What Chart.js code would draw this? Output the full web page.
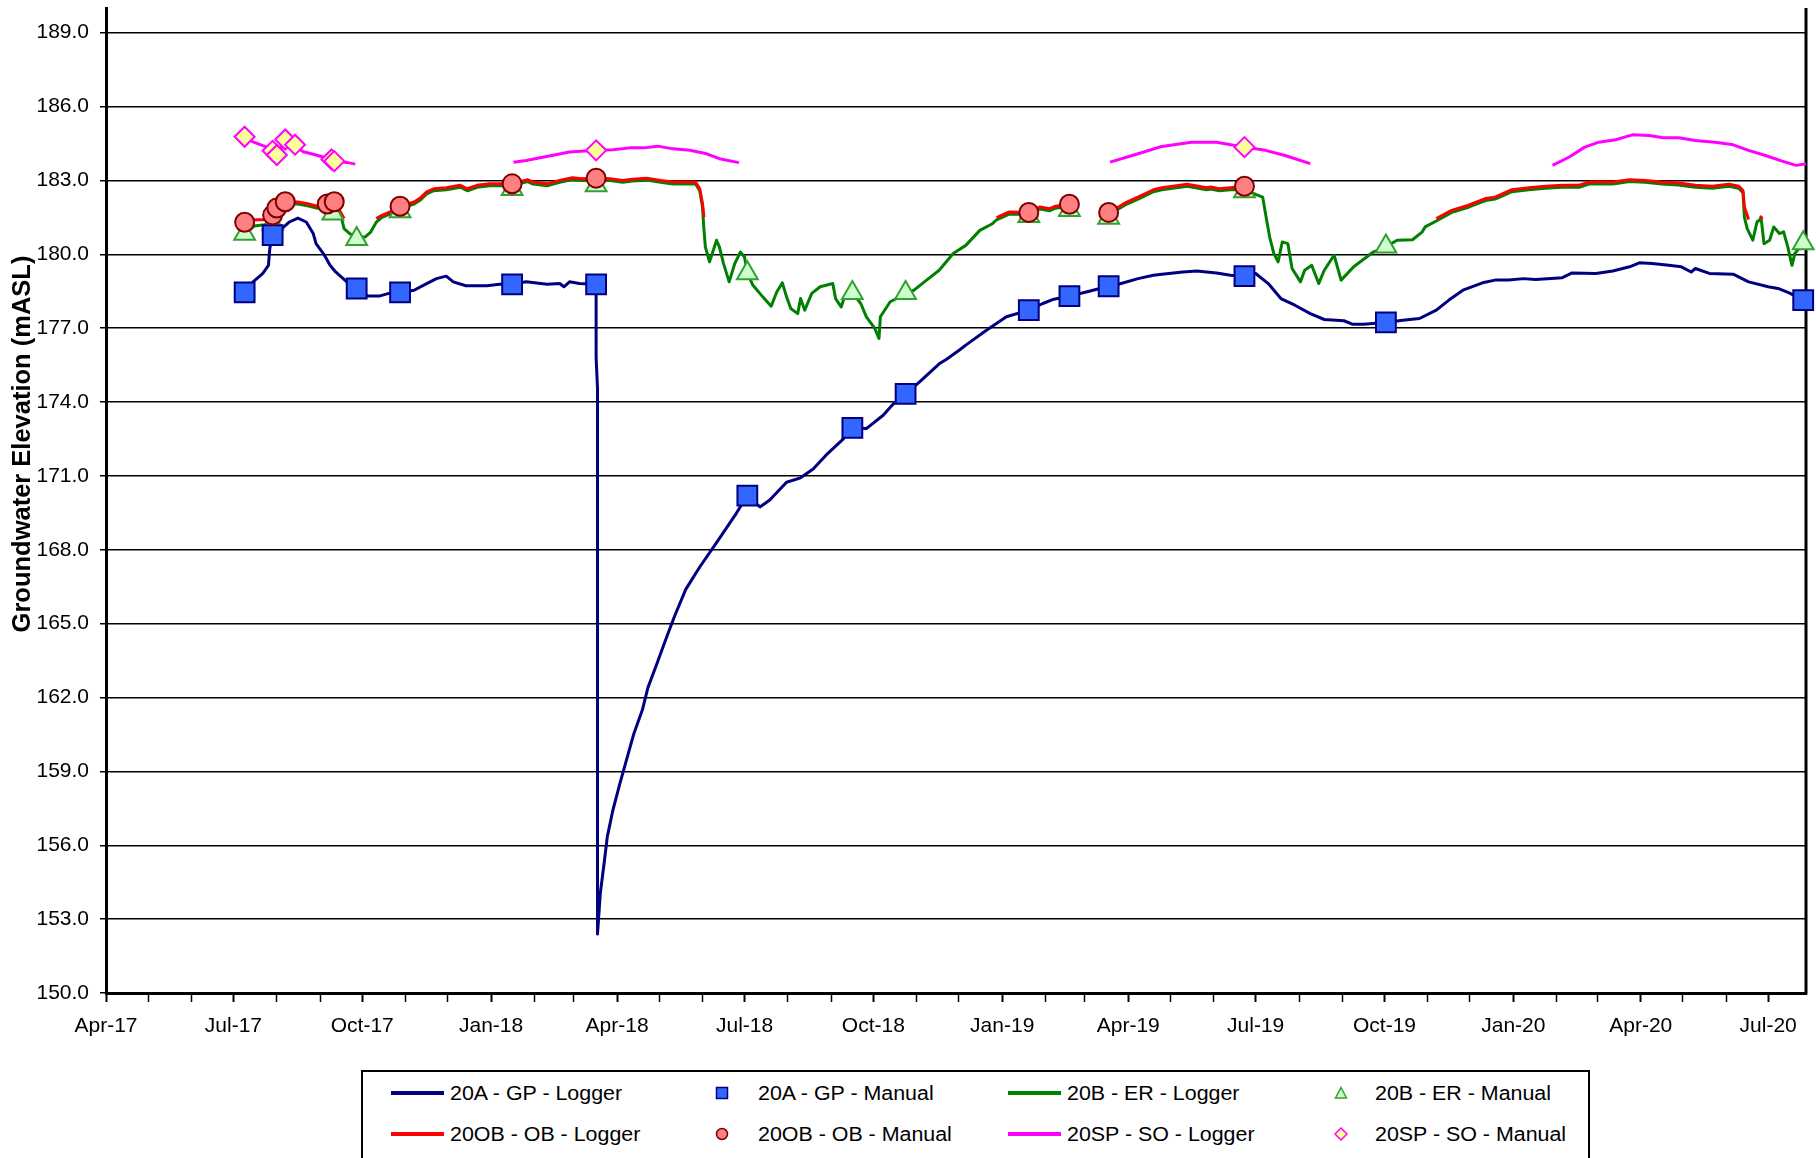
<!DOCTYPE html>
<html>
<head>
<meta charset="utf-8">
<title>Groundwater Elevation</title>
<script src="https://cdn.jsdelivr.net/npm/chart.js@4.4.1/dist/chart.umd.min.js"></script>
<style>
  body { margin: 0; background: #fff; }
  #wrap { position: relative; width: 1816px; height: 1158px; overflow: hidden; font-family: "Liberation Sans", Arial, sans-serif; }
  #legend { position: absolute; left: 361px; top: 1070px; width: 1229px; height: 130px; border: 2px solid #000; box-sizing: border-box; background: #fff; }
  .lg { position: absolute; font-size: 20px; line-height: 24px; color: #000; white-space: nowrap; transform: scaleX(1.07); transform-origin: left center; }
  .lg-line { position: absolute; height: 4px; }
  .lg-mark { position: absolute; width: 14px; height: 14px; }
</style>
</head>
<body>
<div id="wrap">
  <canvas id="chart" width="1816" height="1158"></canvas>
  <div id="legend"></div>
</div>
<script>
// axis settings
const xMin = '2017-04-01';
const xMax = '2020-07-28';
const yMin = 150, yMax = 190, yStep = 3;
const yTitle = 'Groundwater Elevation (mASL)';
const majorTickDates = ['2017-04-01', '2017-07-01', '2017-10-01', '2018-01-01', '2018-04-01', '2018-07-01', '2018-10-01',
  '2019-01-01', '2019-04-01', '2019-07-01', '2019-10-01', '2020-01-01', '2020-04-01', '2020-07-01'];
const majorTickLabels = ['Apr-17', 'Jul-17', 'Oct-17', 'Jan-18', 'Apr-18', 'Jul-18', 'Oct-18',
  'Jan-19', 'Apr-19', 'Jul-19', 'Oct-19', 'Jan-20', 'Apr-20', 'Jul-20'];

// 20A - GP - Logger
const gpLogger = [
  ['2017-07-09', 178.45], ['2017-07-15', 178.88], ['2017-07-22', 179.22], ['2017-07-26', 179.55], ['2017-07-27', 180.25],
  ['2017-07-29', 180.78], ['2017-08-06', 181.11], ['2017-08-10', 181.31], ['2017-08-16', 181.47], ['2017-08-22', 181.31],
  ['2017-08-27', 180.84], ['2017-08-29', 180.43], ['2017-09-04', 179.96], ['2017-09-08', 179.55], ['2017-09-12', 179.28],
  ['2017-09-20', 178.88], ['2017-09-27', 178.61], ['2017-10-05', 178.30], ['2017-10-13', 178.30], ['2017-10-20', 178.41],
  ['2017-10-28', 178.45], ['2017-11-07', 178.54], ['2017-11-16', 178.81], ['2017-11-23', 179.01], ['2017-11-30', 179.11],
  ['2017-12-05', 178.88], ['2017-12-14', 178.72], ['2017-12-29', 178.72], ['2018-01-07', 178.78], ['2018-01-16', 178.78],
  ['2018-01-26', 178.88], ['2018-02-10', 178.78], ['2018-02-19', 178.81], ['2018-02-22', 178.68], ['2018-02-26', 178.88],
  ['2018-03-05', 178.81], ['2018-03-17', 178.78], ['2018-03-17', 175.80], ['2018-03-18', 174.55], ['2018-03-18', 152.40],
  ['2018-03-20', 154.05], ['2018-03-23', 155.40], ['2018-03-25', 156.35], ['2018-03-29', 157.43], ['2018-04-03', 158.51],
  ['2018-04-08', 159.53], ['2018-04-13', 160.54], ['2018-04-19', 161.49], ['2018-04-23', 162.40], ['2018-04-29', 163.31],
  ['2018-05-06', 164.40], ['2018-05-12', 165.30], ['2018-05-20', 166.39], ['2018-05-30', 167.30], ['2018-06-11', 168.29],
  ['2018-06-25', 169.47], ['2018-07-03', 170.20], ['2018-07-12', 169.74], ['2018-07-19', 170.02], ['2018-07-31', 170.74],
  ['2018-08-10', 170.92], ['2018-08-19', 171.28], ['2018-08-28', 171.83], ['2018-09-09', 172.47], ['2018-09-16', 172.95],
  ['2018-09-26', 172.92], ['2018-10-08', 173.46], ['2018-10-15', 173.91], ['2018-10-24', 174.33], ['2018-11-03', 174.82],
  ['2018-11-17', 175.55], ['2018-11-22', 175.73], ['2018-12-01', 176.09], ['2018-12-06', 176.31], ['2018-12-21', 176.92],
  ['2019-01-04', 177.46], ['2019-01-20', 177.73], ['2019-01-30', 178.00], ['2019-02-06', 178.16], ['2019-02-18', 178.30],
  ['2019-03-02', 178.47], ['2019-03-18', 178.70], ['2019-03-25', 178.78], ['2019-04-08', 179.01], ['2019-04-19', 179.15],
  ['2019-04-25', 179.19], ['2019-05-10', 179.28], ['2019-05-20', 179.32], ['2019-06-03', 179.24], ['2019-06-13', 179.15],
  ['2019-06-23', 179.11], ['2019-07-01', 179.22], ['2019-07-10', 178.81], ['2019-07-19', 178.20], ['2019-07-29', 177.93],
  ['2019-08-09', 177.59], ['2019-08-19', 177.35], ['2019-09-02', 177.30], ['2019-09-08', 177.16], ['2019-09-16', 177.16],
  ['2019-10-02', 177.23], ['2019-10-14', 177.32], ['2019-10-26', 177.39], ['2019-11-07', 177.73], ['2019-11-16', 178.14],
  ['2019-11-26', 178.54], ['2019-12-10', 178.84], ['2019-12-19', 178.95], ['2019-12-29', 178.95], ['2020-01-08', 179.01],
  ['2020-01-17', 178.97], ['2020-02-05', 179.05], ['2020-02-12', 179.24], ['2020-02-29', 179.22], ['2020-03-12', 179.32],
  ['2020-03-24', 179.49], ['2020-03-31', 179.65], ['2020-04-09', 179.62], ['2020-04-21', 179.55], ['2020-04-30', 179.49],
  ['2020-05-07', 179.28], ['2020-05-10', 179.42], ['2020-05-20', 179.22], ['2020-06-06', 179.19], ['2020-06-17', 178.88],
  ['2020-07-01', 178.68], ['2020-07-08', 178.61], ['2020-07-16', 178.43], ['2020-07-26', 178.14]
];

// 20B - ER - Logger
const erLogger = [
  ['2017-07-09', 180.83], ['2017-07-16', 181.15], ['2017-07-23', 181.20], ['2017-07-29', 181.30], ['2017-08-01', 181.80],
  ['2017-08-07', 182.05], ['2017-08-16', 182.04], ['2017-08-23', 181.97], ['2017-08-30', 181.87], ['2017-09-02', 181.95],
  ['2017-09-06', 181.96], ['2017-09-11', 181.95], ['2017-09-16', 181.51], ['2017-09-18', 181.04], ['2017-09-22', 180.84],
  ['2017-09-27', 180.70], ['2017-10-03', 180.70], ['2017-10-07', 180.90], ['2017-10-11', 181.30], ['2017-10-15', 181.50],
  ['2017-10-21', 181.64], ['2017-10-28', 181.87], ['2017-11-07', 182.04], ['2017-11-11', 182.18], ['2017-11-16', 182.45],
  ['2017-11-21', 182.58], ['2017-11-30', 182.62], ['2017-12-10', 182.72], ['2017-12-15', 182.58], ['2017-12-22', 182.72],
  ['2017-12-31', 182.78], ['2018-01-16', 182.78], ['2018-01-27', 182.95], ['2018-01-31', 182.85], ['2018-02-10', 182.78],
  ['2018-02-19', 182.92], ['2018-02-28', 183.03], ['2018-03-07', 182.99], ['2018-03-17', 183.00], ['2018-03-27', 182.99],
  ['2018-04-05', 182.92], ['2018-04-12', 182.97], ['2018-04-22', 183.01], ['2018-05-02', 182.92], ['2018-05-11', 182.85],
  ['2018-05-27', 182.85], ['2018-05-30', 182.58], ['2018-06-01', 181.90], ['2018-06-02', 181.00], ['2018-06-03', 180.30],
  ['2018-06-06', 179.69], ['2018-06-11', 180.57], ['2018-06-13', 180.30], ['2018-06-16', 179.62], ['2018-06-20', 178.88],
  ['2018-06-24', 179.62], ['2018-06-28', 180.09], ['2018-07-01', 179.89], ['2018-07-03', 179.23], ['2018-07-07', 178.74],
  ['2018-07-14', 178.27], ['2018-07-20', 177.89], ['2018-07-24', 178.47], ['2018-07-28', 178.84], ['2018-07-31', 178.27],
  ['2018-08-03', 177.80], ['2018-08-08', 177.59], ['2018-08-10', 178.20], ['2018-08-13', 177.73], ['2018-08-18', 178.41],
  ['2018-08-24', 178.68], ['2018-09-02', 178.81], ['2018-09-04', 178.20], ['2018-09-08', 177.86], ['2018-09-10', 178.20],
  ['2018-09-16', 178.43], ['2018-09-22', 178.00], ['2018-09-26', 177.46], ['2018-10-02', 176.99], ['2018-10-05', 176.58],
  ['2018-10-06', 177.46], ['2018-10-13', 178.07], ['2018-10-20', 178.27], ['2018-10-24', 178.43], ['2018-10-30', 178.54],
  ['2018-11-08', 178.95], ['2018-11-17', 179.35], ['2018-11-27', 180.03], ['2018-12-06', 180.36], ['2018-12-16', 180.97],
  ['2018-12-25', 181.24], ['2018-12-28', 181.40], ['2019-01-06', 181.63], ['2019-01-20', 181.62], ['2019-01-28', 181.84],
  ['2019-02-04', 181.77], ['2019-02-08', 181.87], ['2019-02-18', 181.95], ['2019-03-01', null], ['2019-03-18', 181.62],
  ['2019-03-25', 181.84], ['2019-03-31', 182.04], ['2019-04-08', 182.24], ['2019-04-19', 182.54], ['2019-04-25', 182.62],
  ['2019-05-08', 182.72], ['2019-05-13', 182.76], ['2019-05-17', 182.72], ['2019-05-27', 182.62], ['2019-05-30', 182.65],
  ['2019-06-05', 182.58], ['2019-06-13', 182.62], ['2019-06-23', 182.62], ['2019-07-01', 182.43], ['2019-07-06', 182.32],
  ['2019-07-08', 181.65], ['2019-07-11', 180.70], ['2019-07-14', 180.03], ['2019-07-17', 179.69], ['2019-07-20', 180.50],
  ['2019-07-24', 180.43], ['2019-07-27', 179.42], ['2019-08-02', 178.88], ['2019-08-05', 179.35], ['2019-08-10', 179.55],
  ['2019-08-15', 178.81], ['2019-08-19', 179.35], ['2019-08-26', 179.96], ['2019-08-31', 178.95], ['2019-09-09', 179.49],
  ['2019-09-23', 180.09], ['2019-10-02', 180.31], ['2019-10-10', 180.57], ['2019-10-21', 180.59], ['2019-10-28', 180.91],
  ['2019-10-30', 181.11], ['2019-11-07', 181.35], ['2019-11-18', 181.70], ['2019-11-30', 181.91], ['2019-12-12', 182.18],
  ['2019-12-19', 182.24], ['2019-12-31', 182.54], ['2020-01-12', 182.62], ['2020-01-24', 182.68], ['2020-02-05', 182.72],
  ['2020-02-17', 182.72], ['2020-02-24', 182.85], ['2020-03-12', 182.85], ['2020-03-24', 182.95], ['2020-04-04', 182.92],
  ['2020-04-16', 182.85], ['2020-04-28', 182.81], ['2020-05-10', 182.72], ['2020-05-22', 182.68], ['2020-06-03', 182.76],
  ['2020-06-10', 182.68], ['2020-06-13', 182.50], ['2020-06-14', 181.51], ['2020-06-16', 181.04], ['2020-06-20', 180.57],
  ['2020-06-23', 181.31], ['2020-06-26', 181.45], ['2020-06-28', 180.43], ['2020-07-02', 180.57], ['2020-07-05', 181.11],
  ['2020-07-09', 180.84], ['2020-07-12', 180.91], ['2020-07-15', 180.30], ['2020-07-18', 179.55], ['2020-07-20', 180.03],
  ['2020-07-26', 180.45]
];

// 20OB - OB - Logger
const obLogger = [
  ['2017-07-09', 181.30], ['2017-07-16', 181.40], ['2017-07-23', 181.40], ['2017-07-29', 181.59], ['2017-08-01', 181.88],
  ['2017-08-07', 182.13], ['2017-08-16', 182.12], ['2017-08-23', 182.05], ['2017-08-30', 181.95], ['2017-09-02', 182.03],
  ['2017-09-06', 182.04], ['2017-09-11', 182.13], ['2017-09-16', 181.65], ['2017-09-18', 181.45], ['2017-09-30', null],
  ['2017-10-11', 181.45], ['2017-10-15', 181.58], ['2017-10-21', 181.72], ['2017-10-28', 181.95], ['2017-11-07', 182.12],
  ['2017-11-11', 182.26], ['2017-11-16', 182.53], ['2017-11-21', 182.66], ['2017-11-30', 182.70], ['2017-12-10', 182.80],
  ['2017-12-15', 182.66], ['2017-12-22', 182.80], ['2017-12-31', 182.86], ['2018-01-16', 182.86], ['2018-01-27', 183.03],
  ['2018-01-31', 182.93], ['2018-02-10', 182.86], ['2018-02-19', 183.00], ['2018-02-28', 183.11], ['2018-03-07', 183.07],
  ['2018-03-17', 183.09], ['2018-03-27', 183.07], ['2018-04-05', 183.00], ['2018-04-12', 183.05], ['2018-04-22', 183.09],
  ['2018-05-02', 183.00], ['2018-05-11', 182.93], ['2018-05-27', 182.93], ['2018-05-30', 182.66], ['2018-06-01', 182.05],
  ['2018-06-02', 181.51], ['2018-09-01', null], ['2018-12-28', 181.49], ['2019-01-06', 181.72], ['2019-01-20', 181.70],
  ['2019-01-28', 181.92], ['2019-02-04', 181.85], ['2019-02-08', 181.95], ['2019-02-18', 182.03], ['2019-03-01', null],
  ['2019-03-18', 181.70], ['2019-03-25', 181.92], ['2019-03-31', 182.12], ['2019-04-08', 182.32], ['2019-04-19', 182.62],
  ['2019-04-25', 182.70], ['2019-05-08', 182.80], ['2019-05-13', 182.84], ['2019-05-17', 182.80], ['2019-05-27', 182.70],
  ['2019-05-30', 182.73], ['2019-06-05', 182.66], ['2019-06-13', 182.70], ['2019-06-23', 182.76], ['2019-09-01', null],
  ['2019-11-07', 181.45], ['2019-11-18', 181.78], ['2019-11-30', 181.99], ['2019-12-12', 182.26], ['2019-12-19', 182.32],
  ['2019-12-31', 182.62], ['2020-01-12', 182.70], ['2020-01-24', 182.76], ['2020-02-05', 182.80], ['2020-02-17', 182.80],
  ['2020-02-24', 182.93], ['2020-03-12', 182.93], ['2020-03-24', 183.03], ['2020-04-04', 183.00], ['2020-04-16', 182.93],
  ['2020-04-28', 182.89], ['2020-05-10', 182.80], ['2020-05-22', 182.76], ['2020-06-03', 182.84], ['2020-06-10', 182.76],
  ['2020-06-13', 182.59], ['2020-06-14', 181.92], ['2020-06-17', 181.41], ['2020-06-21', null], ['2020-06-25', 181.55],
  ['2020-06-27', 181.45]
];

// 20SP - SO - Logger
const soLogger = [
  ['2017-07-09', 184.74], ['2017-07-15', 184.56], ['2017-07-22', 184.41], ['2017-07-29', 184.28], ['2017-08-06', 184.35],
  ['2017-08-13', 184.41], ['2017-08-20', 184.16], ['2017-08-27', 184.06], ['2017-09-03', 183.95], ['2017-09-10', 183.82],
  ['2017-09-20', 183.73], ['2017-09-26', 183.66], ['2017-11-15', null],
  ['2018-01-17', 183.74], ['2018-01-26', 183.81], ['2018-02-05', 183.92], ['2018-02-17', 184.05], ['2018-02-26', 184.15],
  ['2018-03-17', 184.22], ['2018-03-29', 184.24], ['2018-04-10', 184.32], ['2018-04-20', 184.32], ['2018-04-30', 184.39],
  ['2018-05-11', 184.28], ['2018-05-23', 184.22], ['2018-06-04', 184.08], ['2018-06-13', 183.88], ['2018-06-27', 183.72],
  ['2018-10-01', null],
  ['2019-03-19', 183.74], ['2019-04-08', 184.08], ['2019-04-25', 184.38], ['2019-05-16', 184.55], ['2019-06-03', 184.55],
  ['2019-06-23', 184.35], ['2019-07-08', 184.22], ['2019-07-22', 184.01], ['2019-08-09', 183.68], ['2019-11-01', null],
  ['2020-01-29', 183.61], ['2020-02-10', 183.95], ['2020-02-21', 184.35], ['2020-03-02', 184.55], ['2020-03-14', 184.65],
  ['2020-03-26', 184.85], ['2020-04-07', 184.82], ['2020-04-17', 184.73], ['2020-04-28', 184.73], ['2020-05-10', 184.62],
  ['2020-05-24', 184.55], ['2020-06-05', 184.46], ['2020-06-17', 184.22], ['2020-06-29', 184.01], ['2020-07-11', 183.78],
  ['2020-07-21', 183.61], ['2020-07-28', 183.68]
];

// manual readings
const gpManual = [
  ['2017-07-09', 178.45], ['2017-07-29', 180.78], ['2017-09-27', 178.61], ['2017-10-28', 178.45], ['2018-01-16', 178.78],
  ['2018-03-17', 178.78], ['2018-07-03', 170.20], ['2018-09-16', 172.95], ['2018-10-24', 174.33], ['2019-01-20', 177.73],
  ['2019-02-18', 178.30], ['2019-03-18', 178.70], ['2019-06-23', 179.11], ['2019-10-02', 177.23], ['2020-07-26', 178.14]
];
const erManual = [
  ['2017-07-09', 180.83], ['2017-07-29', 181.25], ['2017-09-10', 181.65], ['2017-09-27', 180.62], ['2017-10-28', 181.75],
  ['2018-01-16', 182.65], ['2018-03-17', 182.80], ['2018-07-03', 179.23], ['2018-09-16', 178.43], ['2018-10-24', 178.43],
  ['2019-01-20', 181.55], ['2019-02-18', 181.80], ['2019-03-18', 181.48], ['2019-06-23', 182.56], ['2019-10-02', 180.31],
  ['2020-07-26', 180.45]
];
const obManual = [
  ['2017-07-09', 181.30], ['2017-07-29', 181.59], ['2017-08-01', 181.88], ['2017-08-07', 182.13], ['2017-09-06', 182.04],
  ['2017-09-11', 182.13], ['2017-10-28', 181.95], ['2018-01-16', 182.86], ['2018-03-17', 183.09], ['2019-01-20', 181.70],
  ['2019-02-18', 182.03], ['2019-03-18', 181.70], ['2019-06-23', 182.76]
];
const soManual = [
  ['2017-07-09', 184.77], ['2017-07-29', 184.20], ['2017-08-01', 184.03], ['2017-08-07', 184.66], ['2017-08-14', 184.45],
  ['2017-09-09', 183.85], ['2017-09-11', 183.78], ['2018-03-17', 184.22], ['2019-06-23', 184.35]
];

const toDay = s => Date.UTC(+s.slice(0, 4), +s.slice(5, 7) - 1, +s.slice(8, 10)) / 86400000;
const pts = rows => rows.map(([d, v]) => ({ x: toDay(d), y: v }));

// one tick per month, labels every third month
const monthTicks = [];
let yr = 2017, mo = 3;
while (Date.UTC(yr, mo, 1) / 86400000 <= toDay(xMax)) {
    monthTicks.push(Date.UTC(yr, mo, 1) / 86400000);
    mo++;
    if (mo > 11) { mo = 0; yr++; }
}
const tickLabel = {};
majorTickDates.forEach((d, i) => { tickLabel[toDay(d)] = majorTickLabels[i]; });

function lineSet(label, rows, color, order) {
    return {
        label: label,
        data: pts(rows),
        borderColor: color,
        backgroundColor: color,
        borderWidth: 3,
        borderJoinStyle: 'round',
        pointRadius: 0,
        spanGaps: false,
        order: order
    };
}

function markerSet(label, rows, style, radius, fill, stroke, order) {
    return {
        label: label,
        data: pts(rows),
        showLine: false,
        pointStyle: style,
        pointRadius: radius,
        pointBackgroundColor: fill,
        pointBorderColor: stroke,
        backgroundColor: fill,
        borderColor: stroke,
        pointBorderWidth: 2,
        clip: false,
        order: order
    };
}

const datasets = [
    lineSet('20A - GP - Logger', gpLogger, '#000080', 8),
    markerSet('20A - GP - Manual', gpManual, 'rect', 14, '#3366ff', '#000080', 3),
    lineSet('20B - ER - Logger', erLogger, '#008000', 7),
    markerSet('20B - ER - Manual', erManual, 'triangle', 12, '#ccffcc', '#33a033', 4),
    lineSet('20OB - OB - Logger', obLogger, '#ff0000', 6),
    markerSet('20OB - OB - Manual', obManual, 'circle', 9.5, '#ff8080', '#800000', 2),
    lineSet('20SP - SO - Logger', soLogger, '#ff00ff', 5),
    markerSet('20SP - SO - Manual', soManual, 'rectRot', 10, '#ffff99', '#ff00ff', 1)
];

const frame = {
    id: 'frame',
    beforeDatasetsDraw(chart) {
        const { ctx, chartArea: a } = chart;
        ctx.save();
        ctx.strokeStyle = '#000';
        ctx.lineWidth = 3;
        ctx.beginPath();
        ctx.moveTo(a.right, a.top);
        ctx.lineTo(a.right, a.bottom + 1.5);
        ctx.stroke();
        ctx.restore();
    },
    afterDraw(chart) {
        const ctx = chart.ctx;
        ctx.save();
        ctx.translate(23, 444);
        ctx.rotate(-Math.PI / 2);
        ctx.font = 'bold 25.5px "Liberation Sans", Arial, sans-serif';
        ctx.fillStyle = '#000';
        ctx.textAlign = 'center';
        ctx.textBaseline = 'middle';
        ctx.fillText(yTitle, 0, 0);
        ctx.restore();
    }
};

Chart.defaults.font.family = '"Liberation Sans", Arial, sans-serif';
Chart.defaults.font.size = 21;
Chart.defaults.color = '#000';

const chart = new Chart(document.getElementById('chart').getContext('2d'), {
    type: 'line',
    data: { datasets: datasets },
    options: {
        responsive: false,
        animation: false,
        events: [],
        layout: { autoPadding: false, padding: { left: 0, top: 8, right: 10, bottom: 105 } },
        plugins: {
            legend: { display: false },
            tooltip: { enabled: false }
        },
        scales: {
            x: {
                type: 'linear',
                min: toDay(xMin),
                max: toDay(xMax),
                afterBuildTicks: scale => {
                    scale.ticks = monthTicks.map(v => ({ value: v, major: v in tickLabel }));
                },
                afterFit: scale => {
                    scale.height = 60;
                    scale.paddingLeft = 0;
                    scale.paddingRight = 0;
                },
                ticks: {
                    autoSkip: false,
                    maxRotation: 0,
                    padding: 12,
                    callback: value => tickLabel[value] || ''
                },
                grid: {
                    drawOnChartArea: false,
                    drawTicks: true,
                    tickLength: 9,
                    tickColor: '#000',
                    tickWidth: c => (c.tick && c.tick.major ? 2 : 1.5)
                },
                border: { color: '#000', width: 3 }
            },
            y: {
                min: yMin,
                max: yMax,
                afterFit: scale => {
                    scale.width = 106;
                    scale.paddingTop = 0;
                    scale.paddingBottom = 0;
                },
                ticks: {
                    stepSize: yStep,
                    includeBounds: false,
                    padding: 11,
                    callback: value => value.toFixed(1)
                },
                grid: {
                    color: '#000',
                    lineWidth: 1.5,
                    tickLength: 6
                },
                border: { color: '#000', width: 3 }
            }
        }
    },
    plugins: [frame]
});

// legend box laid out as in the original, four columns and two rows
const legendOrder = [
    '20A - GP - Logger', '20A - GP - Manual', '20B - ER - Logger', '20B - ER - Manual',
    '20OB - OB - Logger', '20OB - OB - Manual', '20SP - SO - Logger', '20SP - SO - Manual'
];
const colX = [{ mark: 28, text: 87 }, { mark: 352, text: 395 }, { mark: 645, text: 704 }, { mark: 971, text: 1012 }];
const rowY = [21, 62];

function markerSvg(ds) {
    const f = ds.pointBackgroundColor, s = ds.pointBorderColor;
    let shape;
    if (ds.pointStyle === 'rect') {
        shape = `<rect x="1.5" y="1.5" width="11" height="11" fill="${f}" stroke="${s}" stroke-width="1.5"/>`;
    } else if (ds.pointStyle === 'circle') {
        shape = `<circle cx="7" cy="7" r="5.5" fill="${f}" stroke="${s}" stroke-width="1.5"/>`;
    } else if (ds.pointStyle === 'triangle') {
        shape = `<polygon points="7,1.5 12.5,12 1.5,12" fill="${f}" stroke="${s}" stroke-width="1.5"/>`;
    } else {
        shape = `<polygon points="7,1 13,7 7,13 1,7" fill="${f}" stroke="${s}" stroke-width="1.5"/>`;
    }
    return `<svg width="14" height="14" viewBox="0 0 14 14">${shape}</svg>`;
}

const legendBox = document.getElementById('legend');
legendOrder.forEach((name, i) => {
    const ds = chart.data.datasets.find(d => d.label === name);
    const col = colX[i % 4];
    const cy = rowY[Math.floor(i / 4)];
    if (ds.showLine === false) {
        const m = document.createElement('div');
        m.className = 'lg-mark';
        m.style.left = col.mark + 'px';
        m.style.top = (cy - 7) + 'px';
        m.innerHTML = markerSvg(ds);
        legendBox.appendChild(m);
    } else {
        const l = document.createElement('div');
        l.className = 'lg-line';
        l.style.left = col.mark + 'px';
        l.style.top = (cy - 2) + 'px';
        l.style.width = '53px';
        l.style.background = ds.borderColor;
        legendBox.appendChild(l);
    }
    const t = document.createElement('div');
    t.className = 'lg';
    t.style.left = col.text + 'px';
    t.style.top = (cy - 12) + 'px';
    t.textContent = name;
    legendBox.appendChild(t);
});
</script>
</body>
</html>
